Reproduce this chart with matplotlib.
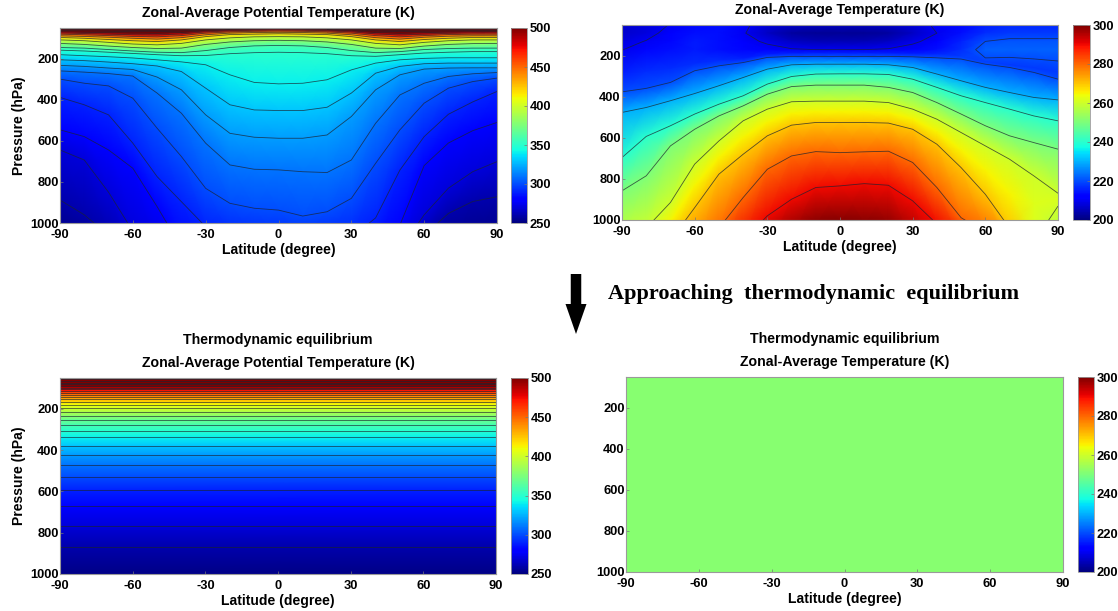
import numpy as np
from matplotlib import pyplot as plt

plt.rcParams['font.family'] = ['Liberation Sans', 'DejaVu Sans']
plt.rcParams['font.weight'] = 'bold'
plt.rcParams['axes.unicode_minus'] = False

# Latitude columns used by every table
lat = [-90, -80, -70, -60, -50, -40, -30, -20, -10, 0, 10, 20, 30, 40, 50, 60, 70, 80, 90]

# Potential temperature: pressure (hPa) of each isentrope at each latitude
theta_levels = [600, 575, 550, 525, 500, 480, 460, 440, 420, 400, 380, 360, 350, 340, 330, 320, 310, 300, 290, 280, 270, 260, 250]
theta_press = [
    [40] * 19,
    [50, 52, 54, 55, 55, 54, 50, 47, 45, 44, 45, 47, 50, 54, 55, 54, 52, 50, 50],
    [56, 58, 60, 62, 62, 60, 55, 52, 50, 49, 50, 52, 55, 60, 62, 60, 58, 56, 56],
    [62, 64, 66, 68, 68, 65, 59, 56, 53, 52, 53, 56, 59, 65, 68, 66, 64, 62, 62],
    [68, 71, 73, 75, 76, 72, 64, 60, 57, 56, 57, 60, 64, 72, 76, 73, 70, 68, 68],
    [74, 77, 80, 83, 84, 79, 69, 64, 61, 60, 61, 64, 69, 79, 84, 80, 76, 74, 74],
    [80, 83, 87, 91, 93, 87, 75, 69, 66, 65, 66, 69, 75, 87, 93, 87, 82, 80, 80],
    [88, 91, 95, 100, 104, 97, 83, 75, 72, 71, 72, 75, 83, 97, 104, 95, 90, 88, 88],
    [96, 100, 106, 112, 116, 108, 92, 82, 80, 78, 80, 82, 92, 108, 116, 106, 100, 96, 96],
    [108, 112, 120, 128, 132, 125, 108, 98, 93, 92, 93, 98, 108, 125, 132, 120, 112, 108, 108],
    [125, 130, 138, 145, 150, 148, 130, 118, 112, 110, 112, 118, 130, 148, 150, 138, 130, 126, 125],
    [145, 148, 155, 162, 168, 170, 160, 145, 137, 135, 137, 145, 160, 170, 165, 155, 150, 148, 148],
    [158, 162, 168, 174, 180, 185, 184, 175, 170, 168, 170, 175, 185, 188, 180, 172, 168, 165, 165],
    [180, 185, 190, 196, 205, 215, 229, 278, 315, 322, 319, 302, 254, 221, 205, 198, 195, 195, 195],
    [205, 209, 216, 224, 235, 262, 343, 424, 449, 452, 452, 436, 367, 270, 237, 224, 221, 221, 221],
    [232, 237, 245, 252, 289, 351, 473, 563, 582, 587, 587, 571, 481, 351, 278, 250, 245, 244, 244],
    [259, 265, 272, 284, 367, 465, 611, 717, 738, 741, 750, 754, 693, 514, 376, 319, 286, 273, 267],
    [299, 319, 332, 392, 538, 676, 831, 904, 928, 937, 966, 945, 880, 709, 546, 416, 343, 311, 294],
    [388, 424, 473, 611, 774, 896, 1018, 1060, 1080, 1090, 1080, 1070, 1070, 975, 742, 579, 470, 410, 359],
    [546, 579, 644, 733, 920, 1120, 1160, 1180, 1190, 1180, 1170, 1160, 1160, 1130, 1010, 720, 610, 550, 510],
    [644, 693, 850, 1040, 1130, 1190, 1240, 1260, 1270, 1265, 1255, 1250, 1250, 1210, 1130, 960, 830, 750, 701],
    [888, 960, 1060, 1160, 1240, 1300, 1340, 1360, 1370, 1360, 1350, 1340, 1340, 1320, 1280, 1060, 953, 895, 872],
    [1080, 1120, 1200, 1300, 1350, 1400, 1420, 1440, 1450, 1450, 1440, 1430, 1430, 1420, 1400, 1250, 1150, 1130, 1100],
]

# Temperature: the upper rows are real profiles, the lower ones follow isotherms
temp_press = [
    [40] * 19,
    [90] * 19,
    [130] * 19,
    [170] * 19,
    [290, 280, 265, 240, 225, 215, 195, 190, 188, 188, 188, 190, 192, 195, 205, 230, 245, 260, 280],
    [376, 359, 330, 273, 249, 233, 208, 203, 203, 203, 203, 203, 205, 210, 216, 241, 257, 281, 314],
    [476, 452, 419, 384, 346, 306, 265, 244, 241, 241, 241, 244, 257, 289, 322, 354, 379, 403, 415],
    [696, 593, 541, 484, 436, 395, 338, 301, 289, 288, 288, 291, 314, 354, 395, 428, 460, 493, 517],
    [858, 785, 639, 558, 493, 444, 387, 350, 343, 343, 343, 354, 379, 428, 484, 541, 590, 623, 655],
    [1100, 1040, 915, 728, 615, 517, 460, 424, 421, 421, 421, 428, 460, 509, 574, 639, 704, 785, 870],
    [1200, 1145, 1008, 834, 696, 598, 525, 481, 473, 473, 473, 478, 509, 570, 660, 757, 872, 920, 900],
    [1300, 1250, 1100, 940, 777, 680, 590, 538, 525, 525, 525, 528, 558, 631, 745, 875, 1040, 1060, 1060],
    [1400, 1350, 1300, 1200, 1040, 891, 753, 688, 667, 672, 668, 665, 720, 842, 989, 1060, 1100, 1100, 1100],
    [1500, 1450, 1400, 1300, 1200, 1100, 980, 899, 842, 834, 823, 831, 907, 1020, 1100, 1200, 1200, 1200, 1200],
    [1600, 1550, 1500, 1400, 1300, 1200, 1150, 1080, 1020, 1010, 1020, 1040, 1150, 1300, 1300, 1300, 1300, 1300, 1300],
]
temp_vals = [
    [207, 208, 210, 213, 214, 211, 208, 207, 206, 206, 206, 207, 208, 211, 213, 215, 216, 216, 216],
    [207, 208.5, 211.5, 214, 214, 210.5, 206, 203, 202, 202, 202, 203, 206, 210, 214, 217, 218, 218, 218],
    [208.5, 210.2, 213, 215, 214, 212, 209, 206, 205, 205, 205, 206, 209, 212, 216, 220, 221, 221, 221],
    [209.8, 213, 214, 215, 214, 213, 212, 210.5, 210, 210, 210, 210.5, 212, 214, 217, 222, 222, 222, 222],
    [216, 217, 217, 217, 217, 216, 216, 216, 216, 216, 216, 216, 216, 217, 218.5, 219, 218, 218, 218],
    [220] * 19,
    [230] * 19,
    [240] * 19,
    [250] * 19,
    [260] * 19,
    [265] * 17 + [262, 261],
    [270] * 17 + [261.5, 256],
    [280] * 19,
    [290] * 19,
    [300] * 19,
]

# Equilibrium state
eq_lat = [-90, 90]
eq_theta = [620, 600, 580, 560, 540, 520, 500, 490, 480, 470, 460, 450, 440, 430, 420, 410, 400, 390, 380,
            370, 360, 350, 340, 330, 320, 310, 300, 290, 280, 270, 260, 250]
eq_press = [45, 51, 57, 64, 72, 81, 91, 98, 105, 113, 122, 131, 142, 154, 167, 181, 197, 215, 233,
            252, 276, 306, 338, 379, 421, 472, 528, 593, 672, 766, 867, 1020]
eq_temp = 251.5

lat_ticks = [-90, -60, -30, 0, 30, 60, 90]
press_ticks = [200, 400, 600, 800, 1000]
theta_ticks = [250, 300, 350, 400, 450, 500]
temp_ticks = [200, 220, 240, 260, 280, 300]

W, H = 1118, 611
fig = plt.figure(figsize=(W / 100, H / 100), dpi=100)


def boks(x0, x1, y0, y1):
    # Axes rectangle from pixel edges in the image
    return [x0 / W, 1 - y1 / H, (x1 - x0) / W, (y1 - y0) / H]


def panel(box, cbox, X, Y, Z, vmin, vmax, cticks, levels, title, ylabel):
    ax = fig.add_axes(boks(*box))
    mesh = ax.pcolormesh(X, Y, Z, shading='gouraud', cmap='jet', vmin=vmin, vmax=vmax)
    if levels is not None:
        # Just under the level, because the table rows sit exactly on it
        ax.contour(X, Y, Z, levels=np.sort(levels) - 0.01, colors='#1c2430', linewidths=0.6, alpha=0.75)
    ax.set_xlim(-90, 90)
    ax.set_ylim(1000, 50)
    ax.set_xticks(lat_ticks)
    ax.set_yticks(press_ticks)
    ax.tick_params(direction='in', length=2, width=0.5, labelsize=9.3, pad=1, color='#777777')
    ax.tick_params(axis='x', pad=4)
    for s in ax.spines.values():
        s.set_linewidth(0.8)
        s.set_color('#9a9a9a')
    ax.set_xlabel('Latitude (degree)', fontsize=10.1, fontweight='bold', labelpad=2)
    if ylabel:
        ax.set_ylabel('Pressure (hPa)', fontsize=10.1, fontweight='bold', labelpad=3)
    ax.set_title(title, fontsize=10.2, fontweight='bold', pad=8, linespacing=1.85)
    cax = fig.add_axes(boks(*cbox))
    cb = fig.colorbar(mesh, cax=cax, ticks=cticks)
    cb.ax.tick_params(direction='in', length=2, width=0.5, labelsize=9.3, pad=2, color='#777777')
    cb.outline.set_linewidth(0.6)
    cb.outline.set_edgecolor('#9a9a9a')
    return ax


latGrid1, _ = np.meshgrid(lat, theta_levels)
thetaGrid = np.array([[v] * len(lat) for v in theta_levels], dtype=float)
panel((60, 497, 28, 223), (511, 527, 28, 223), latGrid1, np.array(theta_press, dtype=float), thetaGrid,
      250, 500, theta_ticks, theta_levels[1:-1], 'Zonal-Average Potential Temperature (K)', True)

latGrid2, _ = np.meshgrid(lat, range(len(temp_press)))
panel((622, 1058, 25, 220), (1073, 1090, 25, 220), latGrid2, np.array(temp_press, dtype=float),
      np.array(temp_vals, dtype=float), 200, 300, temp_ticks, list(range(210, 300, 10)),
      'Zonal-Average Temperature (K)', False)

latGrid3, _ = np.meshgrid(eq_lat, eq_theta)
pressGrid3 = np.array([[p, p] for p in eq_press], dtype=float)
thetaGrid3 = np.array([[v, v] for v in eq_theta], dtype=float)
panel((60, 496, 378, 574), (511, 528, 378, 574), latGrid3, pressGrid3, thetaGrid3,
      250, 500, theta_ticks, eq_theta[1:-1], 'Thermodynamic equilibrium\nZonal-Average Potential Temperature (K)', True)

latGrid4, pressGrid4 = np.meshgrid(eq_lat, [40, 1010])
panel((626, 1063, 377, 572), (1078, 1094, 377, 572), latGrid4, pressGrid4, np.full((2, 2), eq_temp),
      200, 300, temp_ticks, None, 'Thermodynamic equilibrium\nZonal-Average Temperature (K)', False)

# Arrow and heading between the rows, drawn in pixel coordinates
over = fig.add_axes([0, 0, 1, 1], zorder=5)
over.set_xlim(0, W)
over.set_ylim(H, 0)
over.axis('off')
over.arrow(576, 274, 0, 30, width=10.5, head_width=21, head_length=30, length_includes_head=False,
           color='black', linewidth=0)
over.text(814, 294, 'Approaching  thermodynamic  equilibrium', family=['Liberation Serif', 'DejaVu Serif'],
          fontweight='bold', fontsize=16, ha='center', va='center', color='black')

fig.savefig('out.png', dpi=100)
